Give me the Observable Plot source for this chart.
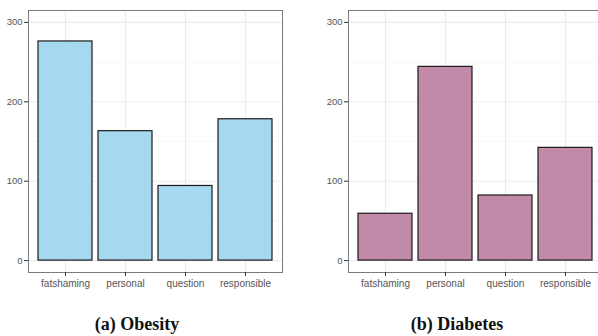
<!DOCTYPE html>
<html>
<head>
<meta charset="utf-8">
<script src="https://cdn.jsdelivr.net/npm/d3@7"></script>
<script src="https://cdn.jsdelivr.net/npm/@observablehq/plot@0.6"></script>
<style>
  html, body { margin: 0; padding: 0; background: #fff; }
  body { width: 598px; height: 336px; overflow: hidden; position: relative; }
  .panel { position: absolute; top: 0; width: 290px; height: 300px; }
  .panel svg { max-width: none !important; }
  .cap { position: absolute; top: 314px; font-family: "Liberation Serif", "DejaVu Serif", serif; font-weight: bold; font-size: 18px; color: #111; transform: translateX(-50%); white-space: nowrap; line-height: 20px; }
</style>
</head>
<body>
<div id="left" class="panel" style="left:0px"></div>
<div id="right" class="panel" style="left:320px"></div>
<div class="cap" style="left:137px">(a) Obesity</div>
<div class="cap" style="left:457px">(b) Diabetes</div>
<script>
const categories = ["fatshaming", "personal", "question", "responsible"];
const obesityCounts = [276, 163, 94, 178];
const diabetesCounts = [59, 244, 82, 142];
const yTicks = [0, 100, 200, 300];
const yMinorTicks = [50, 150, 250];
const obesityColor = "#a6d9f0";
const diabetesColor = "#c08aa8";

function panel(values, color) {
  const data = categories.map((c, i) => ({cat: c, value: values[i]}));
  return Plot.plot({
    width: 290,
    height: 300,
    marginLeft: 28,
    marginRight: 8,
    marginTop: 10,
    marginBottom: 28,
    style: {fontFamily: "'Liberation Sans', Arial, sans-serif", fontSize: "9.5px", background: "transparent", maxWidth: "none"},
    x: {domain: categories, paddingInner: 0.1, paddingOuter: 0.15, axis: null},
    y: {domain: [-15, 315], axis: null},
    marks: [
      Plot.ruleY(yMinorTicks, {stroke: "#f2f2f2", strokeWidth: 0.6}),
      Plot.ruleY(yTicks, {stroke: "#ebebeb", strokeWidth: 1.1}),
      Plot.ruleX(categories, {x: d => d, stroke: "#ebebeb", strokeWidth: 1.1}),
      Plot.barY(data, {x: "cat", y: "value", fill: color, stroke: "#1a1a1a", strokeWidth: 1.2}),
      Plot.frame({stroke: "#7a7a7a", strokeWidth: 1}),
      Plot.axisY(yTicks, {anchor: "left", tickSize: 4, tickPadding: 2, label: null, stroke: "#333", fill: "#555", fontSize: 9.5}),
      Plot.axisX(categories, {anchor: "bottom", tickSize: 4, tickPadding: 3, label: null, stroke: "#333", fill: "#555", fontSize: 10})
    ]
  });
}

document.getElementById("left").appendChild(panel(obesityCounts, obesityColor));
document.getElementById("right").appendChild(panel(diabetesCounts, diabetesColor));
</script>
</body>
</html>
